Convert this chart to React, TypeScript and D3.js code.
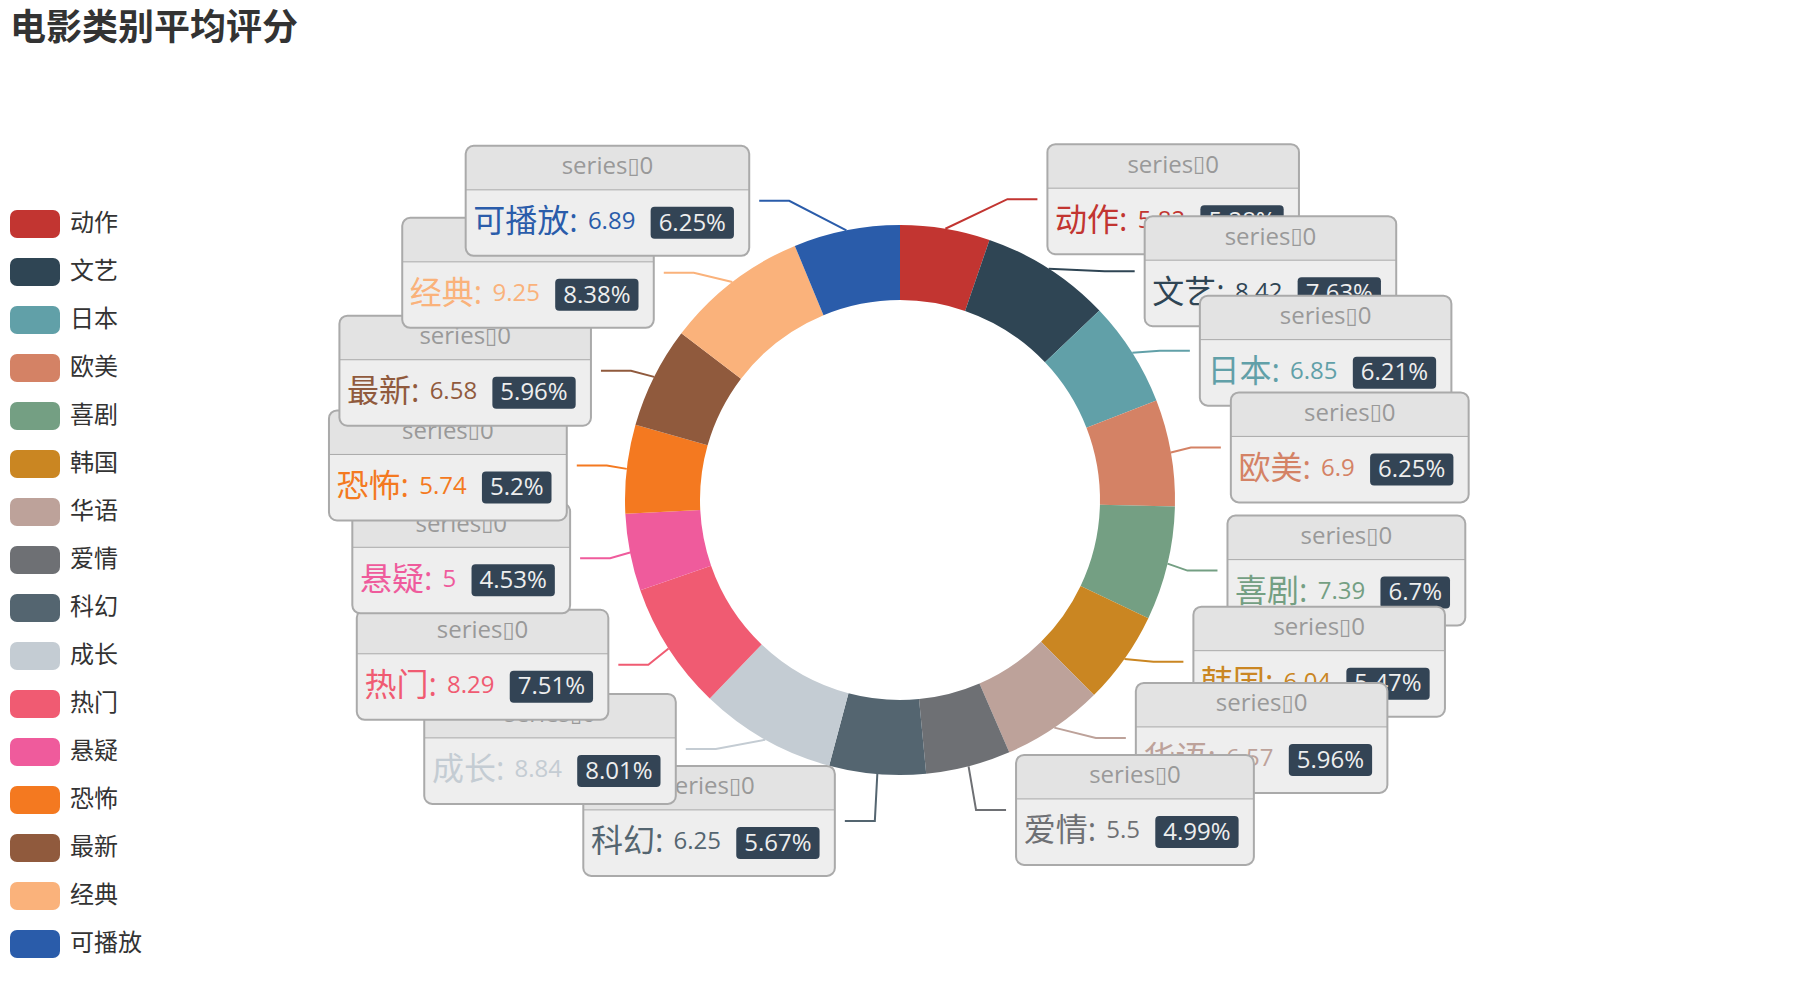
import React, { useMemo } from 'react';
import * as d3 from 'd3';

const TITLE = '电影类别平均评分';
const categories = ['动作', '文艺', '日本', '欧美', '喜剧', '韩国', '华语', '爱情', '科幻', '成长', '热门', '悬疑', '恐怖', '最新', '经典', '可播放'];
const scores = [5.82, 8.42, 6.85, 6.9, 7.39, 6.04, 6.57, 5.5, 6.25, 8.84, 8.29, 5, 5.74, 6.58, 9.25, 6.89];
const palette = ['#c23531', '#2f4554', '#61a0a8', '#d48265', '#749f83', '#ca8622', '#bda29a', '#6e7074', '#546570', '#c4ccd3', '#f05b72', '#ef5b9c', '#f47920', '#905a3d', '#fab27b', '#2a5caa'];
const seriesHead = ['series', '\u25AF', '0'];

const FONT = '"Open Sans", "Noto Sans CJK SC", sans-serif';
const SCALE = 2;
const VW = 900, VH = 500;
const CX = VW / 2, CY = VH / 2;
const R = 0.55 * Math.min(VW, VH) / 2;
const R0 = 0.4 * Math.min(VW, VH) / 2;
const LEN = 15, LEN2 = 15, LDIST = 5;
const BASE_FS = 12;
const LABEL_MEASURE_H = 3 * BASE_FS; // 3 text lines of the formatter
const HEAD_H = 22, BODY_H = 33;
const SPACE_EXTRA = 0.7;
const TY = -1.5; // text vertical nudge

let _ctx: CanvasRenderingContext2D | null = null;
function tw(s: string, size: number) {
  if (!_ctx) _ctx = document.createElement('canvas').getContext('2d');
  _ctx!.font = `${size}px ${FONT}`;
  const spaces = (s.match(/ /g) || []).length;
  return _ctx!.measureText(s).width + spaces * SPACE_EXTRA * size / BASE_FS;
}

function percents(values: number[]) {
  const sum = d3.sum(values);
  const raw = values.map((v) => (v / sum) * 10000);
  const fl = raw.map(Math.floor);
  const remain = 10000 - d3.sum(fl);
  const order = raw.map((r, i) => [r - fl[i], i]).sort((a, b) => b[0] - a[0]);
  for (let k = 0; k < remain; k++) fl[order[k][1]]++;
  return fl.map((f) => String(f / 100));
}

type LItem = {
  i: number; x: number; y: number; height: number; len: number; len2: number;
  linePoints: number[][]; dir: number;
};

function adjustSingleSide(list: LItem[], dir: number, viewTop: number, viewHeight: number) {
  list.sort((a, b) => a.y - b.y);
  function shiftUp(end: number, delta: number) {
    for (let j = end; j >= 0; j--) {
      if (list[j].y - delta < viewTop) break;
      list[j].y -= delta;
      if (j > 0 && list[j].y > list[j - 1].y + list[j - 1].height) break;
    }
  }
  function shiftDown(start: number, end: number, delta: number) {
    for (let j = start; j < end; j++) {
      if (list[j].y + delta > viewTop + viewHeight) break;
      list[j].y += delta;
      if (j > start && j + 1 < end && list[j + 1].y > list[j].y + list[j].height) {
        shiftUp(j, delta / 2);
        return;
      }
    }
    shiftUp(end - 1, delta / 2);
  }
  function changeX(l: LItem[], isDown: boolean) {
    let last = isDown ? Number.MAX_VALUE : 0;
    for (let i = 0; i < l.length; i++) {
      const dy = Math.abs(l[i].y - CY);
      const rr = R + l[i].len + l[i].len2;
      let dx = dy < R + l[i].len ? Math.sqrt(rr * rr - dy * dy) : Math.abs(l[i].x - CX);
      if (isDown && dx >= last) dx = last - 10;
      if (!isDown && dx <= last) dx = last + 10;
      l[i].x = CX + dx * dir;
      last = dx;
    }
  }
  let lastY = 0;
  const len = list.length;
  for (let i = 0; i < len; i++) {
    const delta = list[i].y - lastY;
    if (delta < 0) shiftDown(i, len, -delta);
    lastY = list[i].y + list[i].height;
  }
  if (viewHeight - lastY < 0) shiftUp(len - 1, lastY - viewHeight);
  const up: LItem[] = [], down: LItem[] = [];
  list.forEach((it) => (it.y >= CY ? down : up).push(it));
  changeX(up, false);
  changeX(down, true);
}

export default function App() {
  const model = useMemo(() => {
    const arcs = d3.pie<number>().sort(null).value((d) => d)(scores);
    const pcts = percents(scores);
    const items: LItem[] = arcs.map((a, i) => {
      const mid = (a.startAngle + a.endAngle) / 2;
      const dx = Math.sin(mid), dy = -Math.cos(mid);
      const x1 = CX + R * dx, y1 = CY + R * dy;
      const x2 = x1 + dx * LEN, y2 = y1 + dy * LEN;
      const dir = dx < 0 ? -1 : 1;
      const x3 = x2 + dir * LEN2;
      return {
        i, x: x3 + dir * LDIST, y: y2, height: LABEL_MEASURE_H, len: LEN, len2: LEN2,
        linePoints: [[x1, y1], [x2, y2], [x3, y2]], dir,
      };
    });
    const left = items.filter((it) => it.x < CX);
    const right = items.filter((it) => it.x >= CX);
    adjustSingleSide(right, 1, 0, VH);
    adjustSingleSide(left, -1, 0, VH);
    items.forEach((it) => {
      const lp = it.linePoints;
      const dist = lp[1][0] - lp[2][0];
      lp[2][0] = it.x < CX ? it.x + LDIST : it.x - LDIST;
      lp[1][0] = lp[2][0] + dist;
      lp[1][1] = lp[2][1] = it.y;
    });
    items.sort((a, b) => a.i - b.i);

    const labels = items.map((it) => {
      const i = it.i;
      const sp1 = tw(' ', BASE_FS);
      const bText = categories[i] + ': ';
      const bW = tw(bText, 16);
      const cText = String(scores[i]);
      const cW = tw(cText, BASE_FS);
      const sp2 = tw('  ', BASE_FS);
      const pText = pcts[i] + '%';
      const pW = tw(pText, BASE_FS) + 8;
      const W = sp1 + bW + cW + sp2 + pW + sp2;
      const H = HEAD_H + BODY_H;
      const leftX = it.dir > 0 ? it.x : it.x - W;
      const top = it.y - H / 2;
      return {
        ...it, W, H, leftX, top, bText, cText, pText,
        bX: leftX + sp1, cX: leftX + sp1 + bW, pX: leftX + sp1 + bW + cW + sp2, pW,
      };
    });
    return { arcs, labels };
  }, []);

  const arcGen = d3.arc<d3.PieArcDatum<number>>().innerRadius(R0).outerRadius(R);
  const line = d3.line();

  return (
    <svg width={VW * SCALE} height={VH * SCALE} style={{ position: 'absolute', left: 0, top: 0 }} fontFamily={FONT}>
      <rect width={VW * SCALE} height={VH * SCALE} fill="#fff" />
      <g transform={`scale(${SCALE})`}>
        <text x={5} y={19.8} fontSize={18} fontWeight="bold" fill="#333">{TITLE}</text>
        <g transform="translate(5,105)">
          {categories.map((c, i) => (
            <g key={c} transform={`translate(0,${i * 24})`}>
              <rect width={25} height={14} rx={3.5} fill={palette[i]} />
              <text x={30} y={7 + TY} dominantBaseline="central" fontSize={BASE_FS} fill="#333">{c}</text>
            </g>
          ))}
        </g>
        <g transform={`translate(${CX},${CY})`}>
          {model.arcs.map((a, i) => (
            <path key={i} d={arcGen(a) || ''} fill={palette[i]} />
          ))}
        </g>
        {model.labels.map((l) => {
          const col = palette[l.i];
          const bodyCY = l.top + HEAD_H + BODY_H / 2;
          const r = 4;
          const headPath = `M${l.leftX},${l.top + HEAD_H} V${l.top + r} Q${l.leftX},${l.top} ${l.leftX + r},${l.top} H${l.leftX + l.W - r} Q${l.leftX + l.W},${l.top} ${l.leftX + l.W},${l.top + r} V${l.top + HEAD_H} Z`;
          return (
            <g key={l.i}>
              <path d={line(l.linePoints as [number, number][]) || ''} fill="none" stroke={col} strokeWidth={1} />
              <rect x={l.leftX} y={l.top} width={l.W} height={l.H} rx={4} fill="#eee" />
              <path d={headPath} fill="#e3e3e3" />
              <line x1={l.leftX} x2={l.leftX + l.W} y1={l.top + HEAD_H} y2={l.top + HEAD_H} stroke="#aaa" strokeWidth={0.5} />
              <rect x={l.leftX} y={l.top} width={l.W} height={l.H} rx={4} fill="none" stroke="#aaa" strokeWidth={1} />
              <text x={l.leftX + l.W / 2} y={l.top + HEAD_H / 2 + TY} textAnchor="middle" dominantBaseline="central" fontSize={BASE_FS} fill="#999">
                {seriesHead[0]}<tspan fontFamily="DejaVu Sans" fontSize={11}>{seriesHead[1]}</tspan>{seriesHead[2]}
              </text>
              <text x={l.bX} y={bodyCY + TY} dominantBaseline="central" fontSize={16} fill={col}>{l.bText}</text>
              <text x={l.cX} y={bodyCY + TY} dominantBaseline="central" fontSize={BASE_FS} fill={col}>{l.cText}</text>
              <rect x={l.pX} y={bodyCY - 8} width={l.pW} height={16} rx={2} fill="#334455" />
              <text x={l.pX + 4} y={bodyCY + TY * 0.6} dominantBaseline="central" fontSize={BASE_FS} fill="#eee">{l.pText}</text>
            </g>
          );
        })}
      </g>
    </svg>
  );
}
